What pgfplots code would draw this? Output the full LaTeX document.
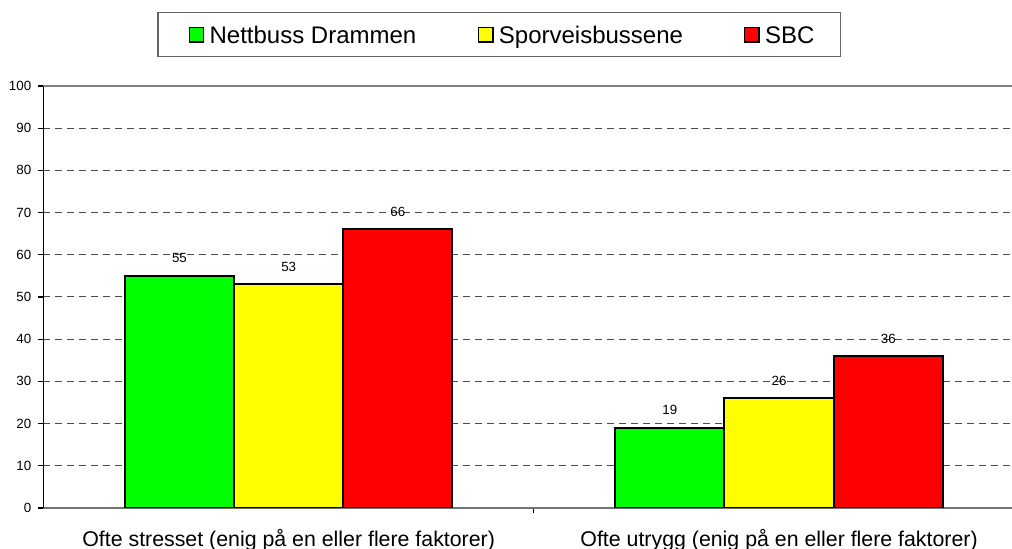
\documentclass[border=0pt]{standalone}
\usepackage{fontspec}
\setmainfont{Liberation Sans}
\usepackage{pgfplots}
\pgfplotsset{compat=1.18}
\definecolor{cgreen}{RGB}{0,255,0}
\definecolor{cyellow}{RGB}{255,255,0}
\definecolor{cred}{RGB}{255,0,0}
\begin{document}
\begin{tikzpicture}
\useasboundingbox (-32.6pt,-30.5pt) rectangle (726.4pt,381pt);
\clip (-32.6pt,-30.5pt) rectangle (726.4pt,381pt);
\begin{axis}[
  at={(0pt,0pt)}, anchor=south west,
  scale only axis, width=735.6pt, height=316.5pt,
  xmin=-0.5, xmax=1.5, ymin=0, ymax=100,
  ybar=0pt, bar width=81.9pt,
  axis x line*=bottom, axis y line*=left,
  x axis line style={draw=black!55, line width=1pt, -},
  y axis line style={draw=black, line width=1.2pt, -},
  xtick={0.5}, xticklabels={},
  extra x ticks={0,1},
  extra x tick labels={Ofte stresset (enig på en eller flere faktorer), Ofte utrygg (enig på en eller flere faktorer)},
  extra x tick style={major tick length=0pt},
  ytick={0,10,...,100},
  tick align=outside, major tick length=3.75pt,
  tick style={black, line width=0.8pt},
  ymajorgrids,
  major grid style={black!70, line width=0.75pt, dash pattern=on 4.8pt off 4.2pt},
  /pgf/number format/assume math mode=true,
  yticklabel style={font=\fontsize{10}{12}\selectfont, anchor=east, inner sep=0pt, xshift=-5.25pt},
  xticklabel style={font=\fontsize{16}{19}\selectfont, anchor=base, inner sep=0pt, yshift=-28.8pt},
  nodes near coords,
  every node near coord/.append style={font=\fontsize{10}{12}\selectfont, anchor=base, inner sep=0pt, yshift=9.75pt, black},
  legend columns=3,
  legend style={at={(0.4649,1.1216)}, anchor=center, draw=black!60, line width=0.8pt,
    inner xsep=22.9pt, inner ysep=8pt, font=\fontsize{18}{21.6}\selectfont,
    nodes={inner sep=0pt},
    /tikz/every odd column/.append style={column sep=4pt}},
  legend image code/.code={\draw[#1, line width=1pt] (0pt,-5.4pt) rectangle (10.8pt,5.4pt);},
]
\addplot[fill=cgreen, draw=black, line width=1.5pt] coordinates {(0,55) (1,19)};
\addplot[fill=cyellow, draw=black, line width=1.5pt] coordinates {(0,53) (1,26)};
\addplot[fill=cred, draw=black, line width=1.5pt] coordinates {(0,66) (1,36)};
\legend{\makebox[201.2pt][l]{\strut Nettbuss Drammen},\makebox[183.75pt][l]{\strut Sporveisbussene},\makebox[34pt][l]{\strut SBC}}
\draw[black!50, line width=1.5pt] (rel axis cs:0,1) -- (rel axis cs:1,1);
\end{axis}
\end{tikzpicture}
\end{document}
